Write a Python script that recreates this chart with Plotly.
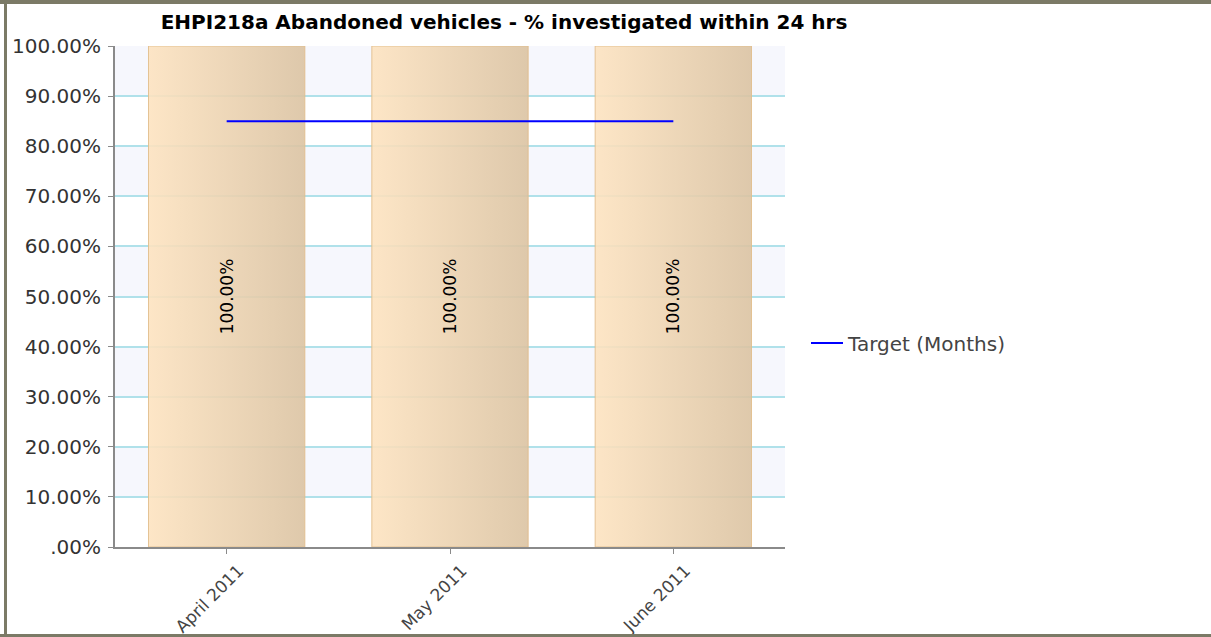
import plotly.graph_objects as go

# ---- data ----
months = ["April 2011", "May 2011", "June 2011"]
actual_pct = [100.0, 100.0, 100.0]
target_pct = [85.0, 85.0, 85.0]
bar_labels = ["100.00%", "100.00%", "100.00%"]
y_tick_values = [0, 10, 20, 30, 40, 50, 60, 70, 80, 90, 100]
y_tick_labels = [".00%", "10.00%", "20.00%", "30.00%", "40.00%", "50.00%",
                 "60.00%", "70.00%", "80.00%", "90.00%", "100.00%"]
title_text = "EHPI218a Abandoned vehicles - % investigated within 24 hrs"
legend_name = "Target (Months)"

# ---- geometry / style ----
W, H = 1211, 637
ML, MR, MT, MB = 115, 426, 46, 90
BAR_W = 0.7
x_pos = list(range(len(months)))
x_range = [-0.5, len(months) - 0.5]
y_range = [0, 100]
FONT = "DejaVu Sans"

fig = go.Figure()

# gradient-filled bar bodies (drawn from the data through the axes)
for xi, v in zip(x_pos, actual_pct):
    fig.add_trace(go.Scatter(
        x=[xi - BAR_W / 2, xi + BAR_W / 2, xi + BAR_W / 2, xi - BAR_W / 2, xi - BAR_W / 2],
        y=[0, 0, v, v, 0],
        mode="lines", fill="toself",
        line=dict(width=0),
        fillgradient=dict(type="horizontal",
                          colorscale=[[0, "rgba(253,227,192,0.9)"],
                                      [1, "rgba(219,195,162,0.9)"]]),
        hoverinfo="skip", showlegend=False,
        xaxis="x", yaxis="y",
    ))

# bars (outline + rotated value labels) on an overlaid axis pair so the text sits above the fill
fig.add_trace(go.Bar(
    x=x_pos, y=actual_pct, width=BAR_W,
    marker=dict(color="rgba(0,0,0,0)", line=dict(color="rgba(225,190,140,0.9)", width=1)),
    text=bar_labels, textposition="inside", insidetextanchor="middle",
    textangle=-90, textfont=dict(family=FONT, size=17, color="#000000"),
    showlegend=False, hoverinfo="skip",
    xaxis="x2", yaxis="y2",
))

# target line
fig.add_trace(go.Scatter(
    x=x_pos, y=target_pct, mode="lines", name=legend_name,
    line=dict(color="#0000ff", width=2),
    xaxis="x2", yaxis="y2",
))

# alternating background bands
shapes = []
for lo, hi in zip(y_tick_values[:-1], y_tick_values[1:]):
    if (lo // 10) % 2 == 1:
        shapes.append(dict(type="rect", xref="paper", yref="y", x0=0, x1=1, y0=lo, y1=hi,
                           fillcolor="#f6f7fd", line=dict(width=0), layer="below"))

# outer frame of the picture (pixel positions converted to paper coords)
def px_x(px):
    return (px - ML) / (W - ML - MR)

def px_y(py):
    return (H - MB - py) / (H - MT - MB)

frame = "#7b7a66"
shapes += [
    dict(type="rect", xref="paper", yref="paper", x0=px_x(0), x1=px_x(W), y0=px_y(0), y1=px_y(4),
         fillcolor=frame, line=dict(width=0), layer="above"),
    dict(type="rect", xref="paper", yref="paper", x0=px_x(4), x1=px_x(7), y0=px_y(0), y1=px_y(H),
         fillcolor=frame, line=dict(width=0), layer="above"),
    dict(type="rect", xref="paper", yref="paper", x0=px_x(0), x1=px_x(W), y0=px_y(634), y1=px_y(H),
         fillcolor=frame, line=dict(width=0), layer="above"),
]

fig.update_layout(
    width=W, height=H,
    margin=dict(l=ML, r=MR, t=MT, b=MB, pad=0, autoexpand=False),
    paper_bgcolor="white", plot_bgcolor="white",
    font=dict(family=FONT, size=20, color="#333333"),
    title=dict(text="<b>" + title_text + "</b>", x=504 / W, xref="container", xanchor="center",
               y=1 - 22 / H, yref="container", yanchor="middle",
               font=dict(family=FONT, size=20, color="#000000")),
    xaxis=dict(range=x_range, tickvals=x_pos, ticktext=months, tickangle=-45, automargin=False,
               showgrid=False, zeroline=False, showline=True, linecolor="#8a8a8a", linewidth=2,
               ticks="outside", ticklen=5, tickcolor="#8a8a8a", ticklabelshift=12,
               tickfont=dict(family=FONT, size=17, color="#444444")),
    yaxis=dict(range=y_range, tickvals=y_tick_values, ticktext=y_tick_labels, automargin=False,
               showgrid=True, gridcolor="#b0e1ea", gridwidth=1.5, zeroline=False,
               showline=True, linecolor="#8a8a8a", linewidth=2,
               ticks="outside", ticklen=5, tickcolor="#8a8a8a", ticklabelstandoff=3,
               tickfont=dict(family=FONT, size=20, color="#333333")),
    xaxis2=dict(range=x_range, overlaying="x", visible=False, automargin=False),
    yaxis2=dict(range=y_range, overlaying="y", visible=False, automargin=False),
    barmode="overlay",
    showlegend=True,
    legend=dict(x=px_x(806), xanchor="left", y=px_y(343), yanchor="middle",
                bgcolor="rgba(0,0,0,0)", font=dict(family=FONT, size=20, color="#444444"),
                itemwidth=32),
    shapes=shapes,
)

fig.write_html("out.html", config={"displayModeBar": False},
               post_script="document.body.style.margin='0';")
